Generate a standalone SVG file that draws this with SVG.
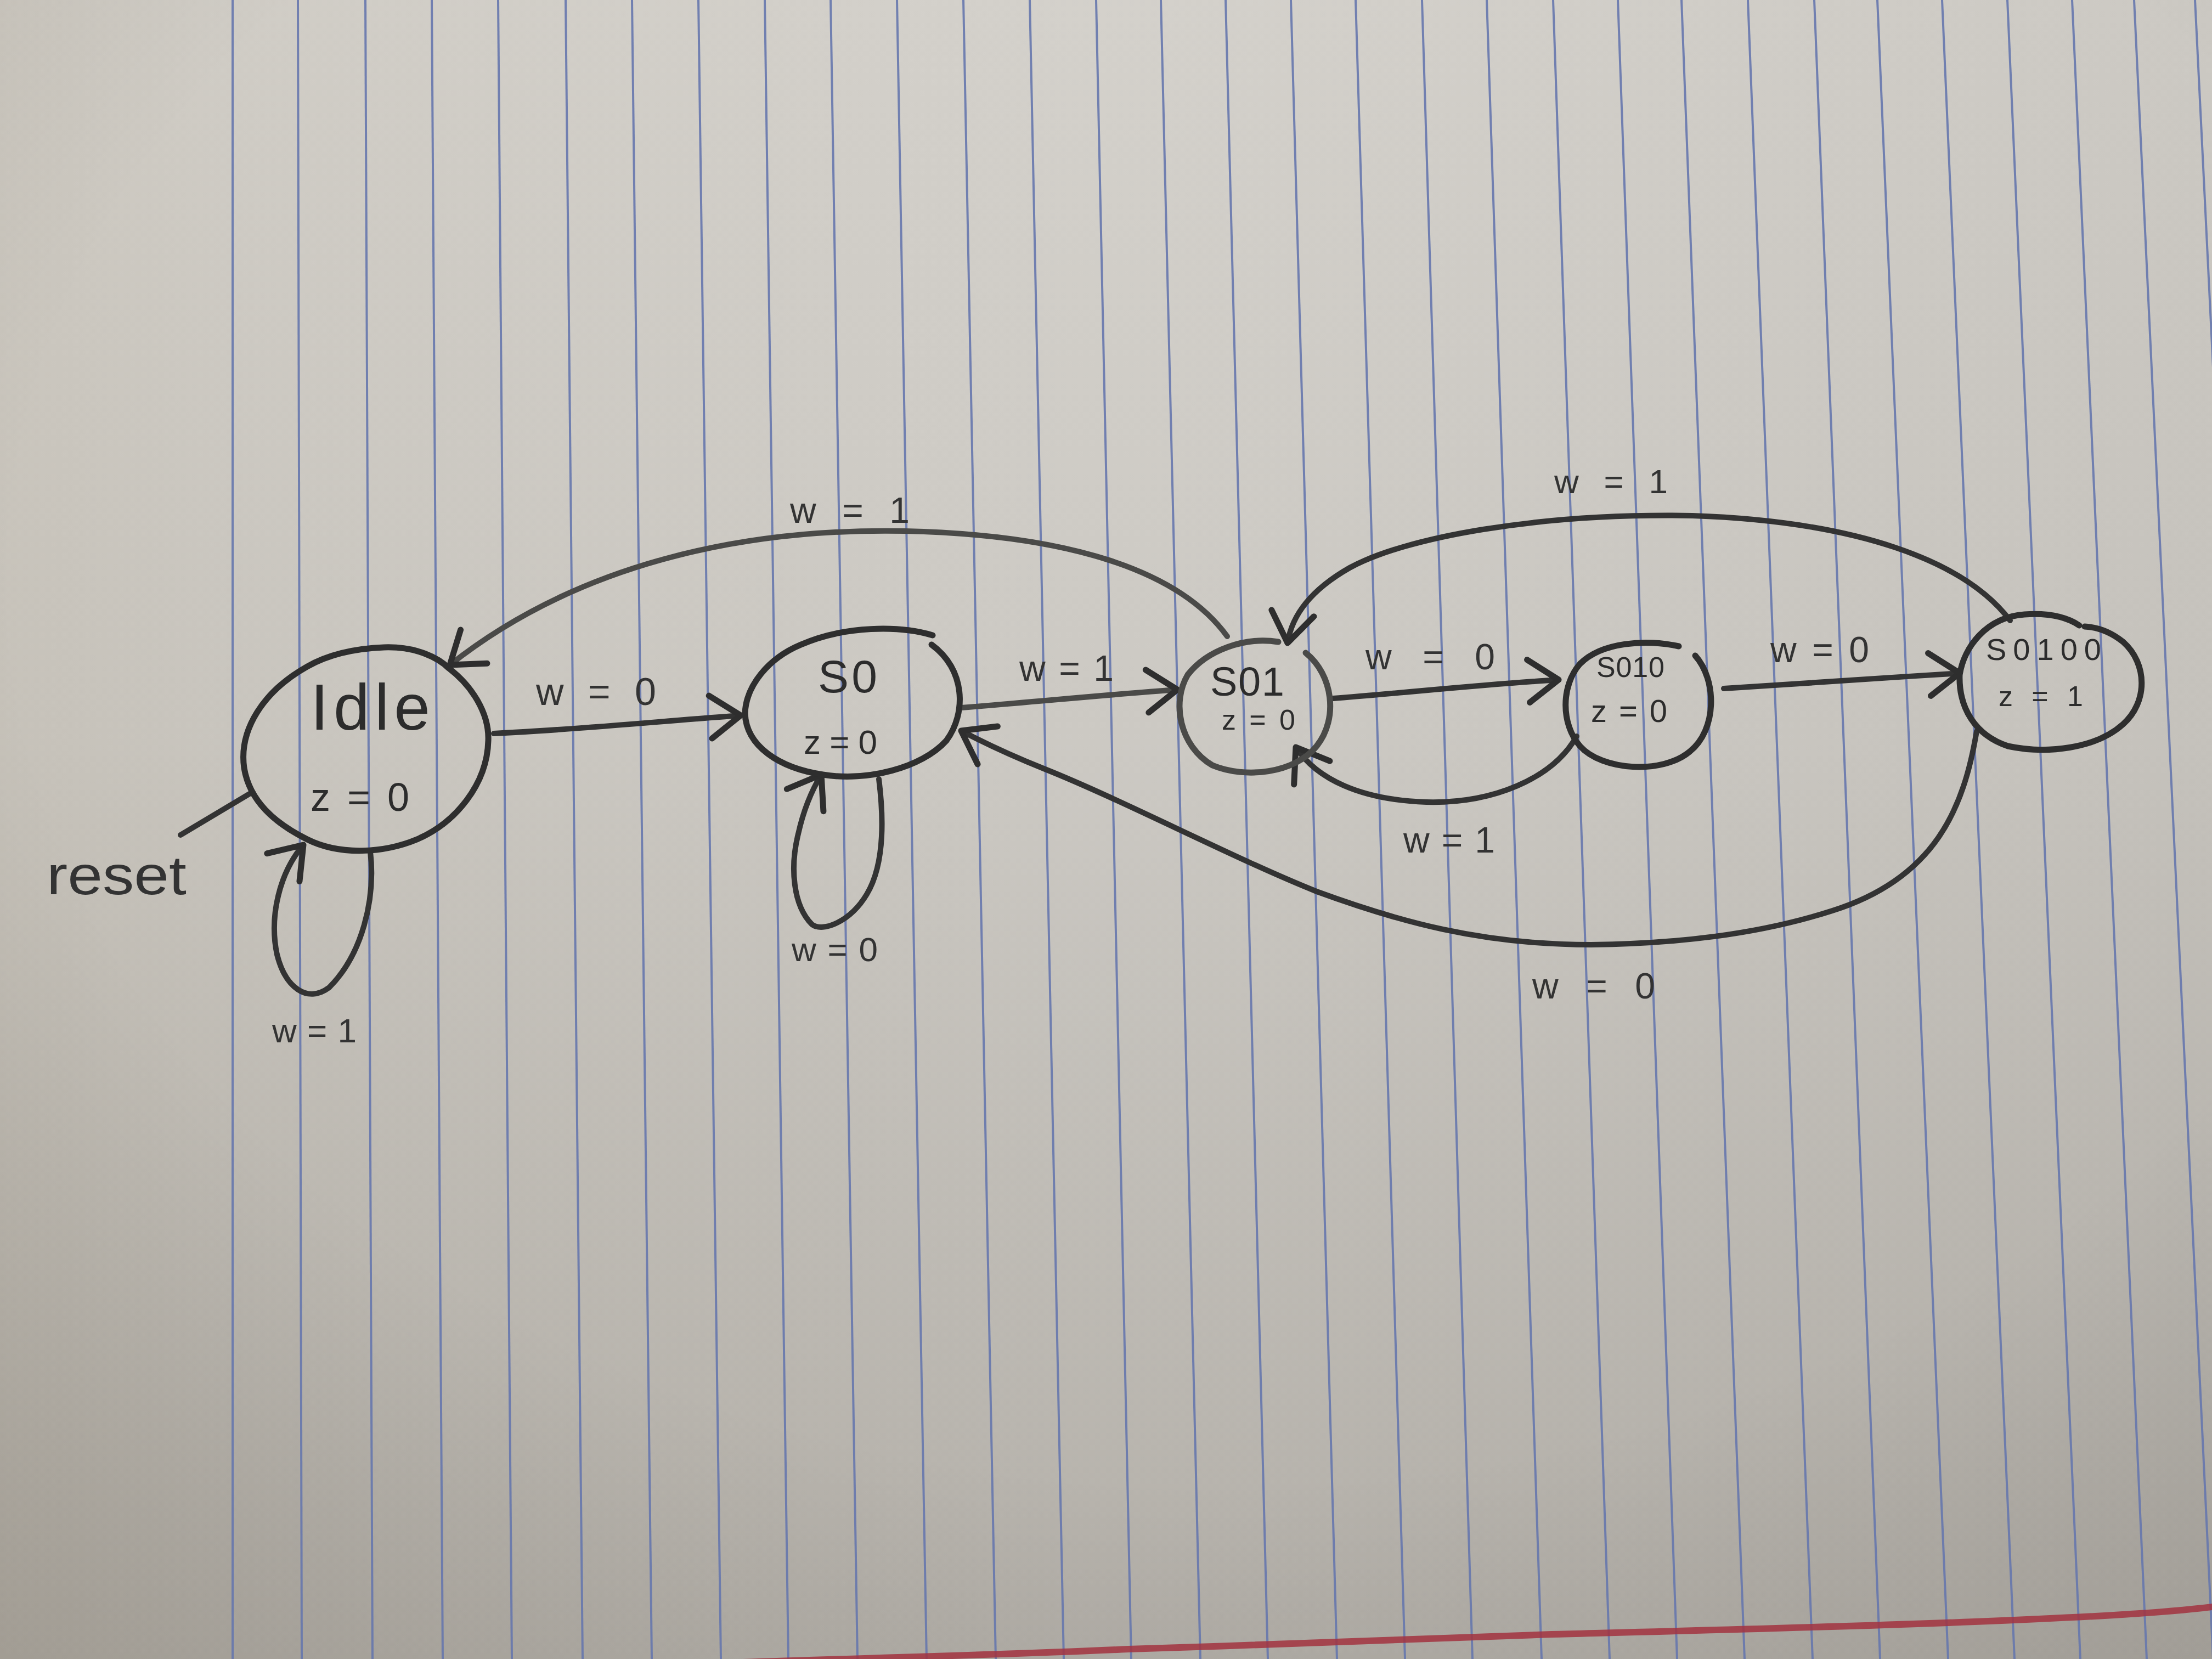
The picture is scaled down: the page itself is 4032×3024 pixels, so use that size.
<svg xmlns="http://www.w3.org/2000/svg" width="4032" height="3024" viewBox="0 0 4032 3024">
  <defs>
    <linearGradient id="paper" x1="0" y1="0" x2="0" y2="1">
      <stop offset="0" stop-color="#d2cfc9"/>
      <stop offset="0.45" stop-color="#cac7c1"/>
      <stop offset="1" stop-color="#b0aca5"/>
    </linearGradient>
    <linearGradient id="sideShade" x1="0" y1="0" x2="1" y2="0">
      <stop offset="0" stop-color="#a89a80" stop-opacity="0.12"/>
      <stop offset="0.1" stop-color="#a89a80" stop-opacity="0.05"/>
      <stop offset="0.5" stop-color="#ffffff" stop-opacity="0.04"/>
      <stop offset="1" stop-color="#6e6a64" stop-opacity="0.06"/>
    </linearGradient>
    <radialGradient id="vignette" cx="0.55" cy="0.35" r="0.9">
      <stop offset="0.6" stop-color="#000000" stop-opacity="0"/>
      <stop offset="1" stop-color="#3a342c" stop-opacity="0.12"/>
    </radialGradient>
    <marker id="arrow" markerUnits="userSpaceOnUse" markerWidth="120" markerHeight="120" refX="0" refY="0" viewBox="-70 -60 80 120" orient="auto" overflow="visible">
      <path d="M -55,-40 L 0,0 L -55,38" fill="none" stroke="#2e2e2e" stroke-width="11" stroke-linecap="round" stroke-linejoin="round"/>
    </marker>
    <style>
      .rule { stroke: #6677ad; stroke-width: 4; fill: none; opacity: 0.9; }
      .margin { stroke: #a2333f; stroke-width: 12; fill: none; stroke-linecap: round; opacity: 0.85; }
      .state { fill: none; stroke: #2e2e2e; stroke-width: 11; stroke-linecap: round; stroke-linejoin: round; }
      .edge { fill: none; stroke: #333333; stroke-width: 10; stroke-linecap: round; stroke-linejoin: round; }
      .light { stroke: #4a4a48; }
      .txt { font-family: "Liberation Sans", "DejaVu Sans", sans-serif; fill: #2c2c2c; }
      .lbl { font-family: "Liberation Sans", "DejaVu Sans", sans-serif; fill: #333333; }
    </style>
  </defs>

  <!-- paper -->
  <rect x="0" y="0" width="4032" height="3024" fill="url(#paper)"/>
  <rect x="0" y="0" width="4032" height="3024" fill="url(#sideShade)"/>
  <rect x="0" y="0" width="4032" height="3024" fill="url(#vignette)"/>

  <!-- ruled lines, fanning slightly toward the bottom -->
  <g id="rules">
    <line class="rule" x1="424" y1="0" x2="424" y2="3024"/>
    <line class="rule" x1="543" y1="0" x2="550" y2="3024"/>
    <line class="rule" x1="666" y1="0" x2="679" y2="3024"/>
    <line class="rule" x1="787" y1="0" x2="807" y2="3024"/>
    <line class="rule" x1="908" y1="0" x2="933" y2="3024"/>
    <line class="rule" x1="1031" y1="0" x2="1062" y2="3024"/>
    <line class="rule" x1="1152" y1="0" x2="1188" y2="3024"/>
    <line class="rule" x1="1273" y1="0" x2="1314" y2="3024"/>
    <line class="rule" x1="1394" y1="0" x2="1437" y2="3024"/>
    <line class="rule" x1="1514" y1="0" x2="1563" y2="3024"/>
    <line class="rule" x1="1635" y1="0" x2="1689" y2="3024"/>
    <line class="rule" x1="1756" y1="0" x2="1815" y2="3024"/>
    <line class="rule" x1="1877" y1="0" x2="1939" y2="3024"/>
    <line class="rule" x1="1998" y1="0" x2="2062" y2="3024"/>
    <line class="rule" x1="2116" y1="0" x2="2188" y2="3024"/>
    <line class="rule" x1="2234" y1="0" x2="2311" y2="3024"/>
    <line class="rule" x1="2353" y1="0" x2="2437" y2="3024"/>
    <line class="rule" x1="2471" y1="0" x2="2561" y2="3024"/>
    <line class="rule" x1="2592" y1="0" x2="2684" y2="3024"/>
    <line class="rule" x1="2710" y1="0" x2="2810" y2="3024"/>
    <line class="rule" x1="2831" y1="0" x2="2934" y2="3024"/>
    <line class="rule" x1="2949" y1="0" x2="3057" y2="3024"/>
    <line class="rule" x1="3065" y1="0" x2="3180" y2="3024"/>
    <line class="rule" x1="3186" y1="0" x2="3304" y2="3024"/>
    <line class="rule" x1="3307" y1="0" x2="3427" y2="3024"/>
    <line class="rule" x1="3422" y1="0" x2="3551" y2="3024"/>
    <line class="rule" x1="3540" y1="0" x2="3672" y2="3024"/>
    <line class="rule" x1="3659" y1="0" x2="3792" y2="3024"/>
    <line class="rule" x1="3777" y1="0" x2="3913" y2="3024"/>
    <line class="rule" x1="3890" y1="0" x2="4034" y2="3024"/>
    <line class="rule" x1="4001" y1="0" x2="4150" y2="3024"/>
    <path class="margin" d="M 1300,3032 C 1500,3024 1800,3018 2057,3006 C 2300,2998 2500,2992 2828,2979 C 3100,2972 3350,2966 3600,2956 C 3800,2948 3950,2940 4040,2928"/>
  </g>

  <!-- transitions -->
  <g id="connectors">
    <line class="edge" x1="329" y1="1522" x2="458" y2="1445"/>
    <text class="lbl" x="85" y="1630" font-size="100" textLength="255" lengthAdjust="spacingAndGlyphs">reset</text>

    <path class="edge" d="M 900,1337 C 1050,1330 1200,1315 1350,1304" marker-end="url(#arrow)"/>
    <text class="lbl" x="977" y="1285" font-size="70" textLength="219" lengthAdjust="spacing">w=0</text>

    <path class="edge light" d="M 1752,1290 C 1880,1280 2020,1266 2146,1257" marker-end="url(#arrow)"/>
    <text class="lbl" x="1858" y="1241" font-size="66" textLength="172" lengthAdjust="spacing">w=1</text>

    <path class="edge" d="M 2430,1273 C 2570,1262 2700,1248 2841,1239" marker-end="url(#arrow)"/>
    <text class="lbl" x="2489" y="1220" font-size="66" textLength="236" lengthAdjust="spacing">w=0</text>

    <path class="edge" d="M 3142,1255 C 3290,1245 3430,1236 3572,1227" marker-end="url(#arrow)"/>
    <text class="lbl" x="3227" y="1207" font-size="66" textLength="180" lengthAdjust="spacing">w=0</text>

    <path class="edge" d="M 2874,1342 C 2830,1420 2720,1465 2600,1462 C 2480,1458 2400,1420 2362,1362" marker-end="url(#arrow)"/>
    <text class="lbl" x="2558" y="1554" font-size="66" textLength="167" lengthAdjust="spacing">w=1</text>

    <path class="edge" d="M 3664,1131 C 3580,1020 3380,950 3085,940 C 2800,935 2560,980 2460,1035 C 2390,1075 2355,1120 2347,1172" marker-end="url(#arrow)"/>
    <text class="lbl" x="2833" y="899" font-size="62" textLength="207" lengthAdjust="spacing">w=1</text>

    <path class="edge light" d="M 2237,1160 C 2150,1040 1950,975 1650,968 C 1350,962 1050,1030 820,1212" marker-end="url(#arrow)"/>
    <text class="lbl" x="1440" y="953" font-size="66" textLength="218" lengthAdjust="spacing">w=1</text>

    <path class="edge" d="M 3603,1333 C 3580,1470 3530,1600 3340,1660 C 3200,1705 3050,1720 2900,1722 C 2700,1722 2550,1680 2400,1625 C 2250,1565 2050,1460 1905,1402 C 1840,1376 1790,1352 1752,1332" marker-end="url(#arrow)"/>
    <text class="lbl" x="2793" y="1820" font-size="66" textLength="224" lengthAdjust="spacing">w=0</text>

    <path class="edge" d="M 675,1552 C 685,1640 660,1740 600,1800 C 560,1830 520,1800 505,1740 C 490,1670 510,1590 553,1540" marker-end="url(#arrow)"/>
    <text class="lbl" x="496" y="1900" font-size="62" textLength="154" lengthAdjust="spacing">w=1</text>

    <path class="edge" d="M 1602,1420 C 1612,1500 1610,1580 1580,1630 C 1550,1680 1500,1700 1480,1685 C 1445,1650 1440,1580 1455,1520 C 1465,1475 1480,1440 1497,1412" marker-end="url(#arrow)"/>
    <text class="lbl" x="1443" y="1752" font-size="62" textLength="157" lengthAdjust="spacing">w=0</text>
  </g>

  <!-- states -->
  <g id="state-idle">
    <path class="state" d="M 700,1180 C 760,1178 800,1200 818,1218 C 860,1250 892,1300 890,1350 C 888,1430 830,1500 760,1530 C 700,1555 620,1560 560,1530 C 500,1500 455,1460 445,1400 C 435,1330 480,1260 560,1215 C 600,1192 650,1182 700,1180 Z"/>
    <text class="txt" x="566" y="1330" font-size="118" textLength="218" lengthAdjust="spacing">Idle</text>
    <text class="txt" x="566" y="1478" font-size="72" textLength="180" lengthAdjust="spacing">z=0</text>
  </g>

  <g id="state-s0">
    <path class="state" d="M 1700,1158 C 1640,1140 1540,1140 1460,1175 C 1400,1200 1360,1250 1358,1300 C 1360,1360 1420,1400 1500,1412 C 1580,1425 1680,1400 1725,1350 C 1762,1300 1760,1220 1698,1175"/>
    <text class="txt" x="1491" y="1262" font-size="84" textLength="108" lengthAdjust="spacing">S0</text>
    <text class="txt" x="1465" y="1374" font-size="62" textLength="134" lengthAdjust="spacing">z=0</text>
  </g>

  <g id="state-s01">
    <path class="state light" d="M 2330,1170 C 2270,1160 2200,1185 2165,1230 C 2135,1280 2150,1360 2210,1395 C 2270,1420 2360,1410 2400,1360 C 2440,1310 2430,1230 2380,1190"/>
    <text class="txt" x="2206" y="1268" font-size="74" textLength="135" lengthAdjust="spacing">S01</text>
    <text class="txt" x="2227" y="1330" font-size="52" textLength="134" lengthAdjust="spacing">z=0</text>
  </g>

  <g id="state-s010">
    <path class="state" d="M 3060,1178 C 3000,1165 2920,1170 2880,1210 C 2845,1250 2845,1320 2880,1360 C 2920,1405 3030,1412 3080,1370 C 3130,1330 3130,1240 3090,1195"/>
    <text class="txt" x="2910" y="1234" font-size="52" textLength="124" lengthAdjust="spacing">S010</text>
    <text class="txt" x="2900" y="1316" font-size="58" textLength="139" lengthAdjust="spacing">z=0</text>
  </g>

  <g id="state-s0100">
    <path class="state" d="M 3690,1120 C 3620,1125 3580,1180 3572,1230 C 3570,1290 3600,1340 3660,1360 C 3730,1375 3820,1365 3870,1320 C 3915,1280 3915,1210 3870,1170 C 3845,1150 3820,1143 3800,1142 M 3790,1140 C 3760,1120 3720,1118 3690,1120"/>
    <text class="txt" x="3620" y="1203" font-size="56" textLength="210" lengthAdjust="spacing">S0100</text>
    <text class="txt" x="3643" y="1287" font-size="52" textLength="154" lengthAdjust="spacing">z=1</text>
  </g>
</svg>
